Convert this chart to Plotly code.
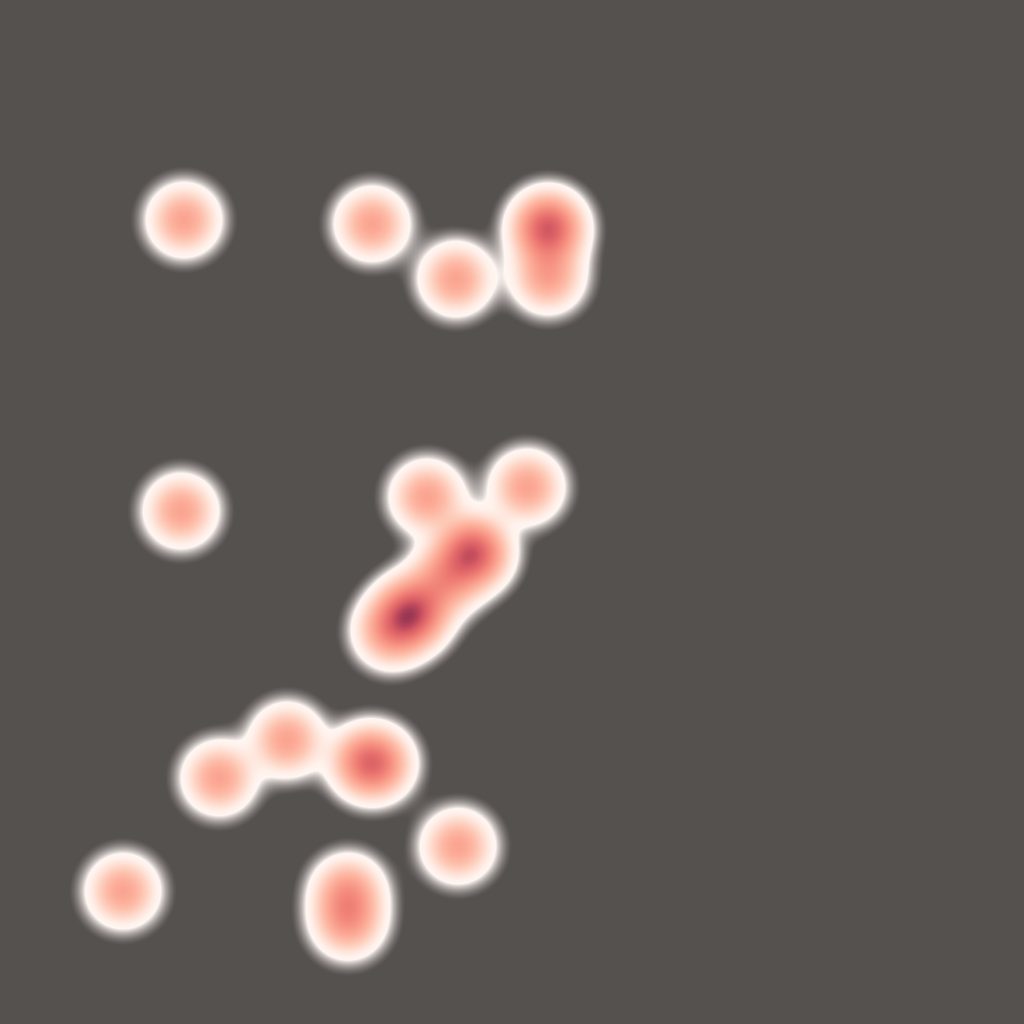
import plotly.graph_objects as go

# point locations (degrees)
lon = [-3.28, -1.40, -0.56, 0.36, 0.36, 0.36,
       -3.31,
       -0.85, 0.15, -0.39, -0.39, -0.67, -1.00, -1.00, -1.22,
       -2.93, -2.25, -1.47, -1.34,
       -0.54, -3.89, -1.64, -1.64]
lat = [2.92, 2.88, 2.33, 2.84, 2.84, 2.35,
       0.01,
       0.15, 0.25, -0.41, -0.41, -0.68, -1.01, -1.01, -1.20,
       -2.66, -2.28, -2.50, -2.52,
       -3.34, -3.79, -3.79, -4.10]

bg = "#55514f"

scale = [
    [0.0, "rgba(255,250,248,0)"],
    [0.012, "rgba(255,250,248,0)"],
    [0.075, "rgba(255,247,243,1)"],
    [0.11, "rgb(255,240,233)"],
    [0.2, "rgb(254,212,196)"],
    [0.28, "rgb(253,190,170)"],
    [0.36, "rgb(252,172,152)"],
    [0.5, "rgb(246,145,130)"],
    [0.65, "rgb(235,118,112)"],
    [0.8, "rgb(215,92,100)"],
    [0.92, "rgb(180,68,90)"],
    [1.0, "rgb(150,54,82)"],
]

fig = go.Figure(go.Densitymap(
    lon=lon, lat=lat, radius=62,
    colorscale=scale, showscale=False,
))

style = {
    "version": 8,
    "sources": {},
    "layers": [{"id": "bg", "type": "background",
                "paint": {"background-color": bg}}],
}

fig.update_layout(
    width=1024, height=1024,
    margin=dict(l=0, r=0, t=0, b=0),
    paper_bgcolor=bg,
    map=dict(style=style, center=dict(lon=0, lat=0), zoom=6.135709),
)

fig.write_html(
    "out.html",
    config={"displayModeBar": False},
    post_script="document.body.style.margin='0';"
                "document.body.style.overflow='hidden';"
                "document.body.style.background='" + bg + "';",
)
